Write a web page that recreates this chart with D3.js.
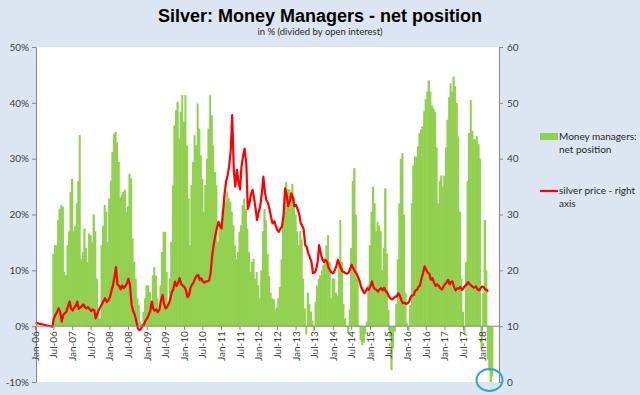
<html>
<head>
    <meta charset="utf-8">
    <title>Silver: Money Managers - net position</title>
    <style>
        body { margin: 0; background: #dce6f2; }
        text { font-family: Lato, "Open Sans", sans-serif; fill: #404040; }
        .axis path, .axis line { stroke: #868686; }
        .axis text { font-size: 10px; }
        .xlab { font-size: 9.5px; }
        .legend text { font-size: 10px; fill: #262626; }
    </style>
</head>
<body>
<svg width="640" height="395"></svg>
<script src="https://d3js.org/d3.v7.min.js"></script>
<script>
    // half-monthly readings, first one 15 Jun 2006, then 1st / 15th of each month
    var netPosition = [
        13, 14.5, 14.5, 19, 21, 21.7, 21.4, 9.7, 9.1, 14.5,
        17, 24, 26.4, 17, 18, 22, 26, 34.2, 12, 13.3,
        17.5, 14, 11.5, 16.6, 16.3, 15, 20, 17, 8.5, 2.6,
        1.4, 14.5, 18, 21.7, 20.5, 15.1, 22.9, 26, 31.2, 34.5,
        34.8, 33, 29.4, 23, 23.5, 24.1, 24.4, 20.5, 21.5, 27.3,
        26.5, 15.7, 11.5, 8.5, 5, 3.8, 0.8, 0.4, 2.6, 5,
        7.3, 7.3, 6.1, 3.8, 9.1, 10.6, 9.1, 5, 2.6, 7.3,
        13.3, 16.9, 16.9, 9.7, 4.4, 8.5, 15.1, 25.3, 36, 38.7,
        40.2, 33.6, 38.4, 41.4, 36.6, 41.4, 32.4, 22.9, 14.5, 25.3,
        29.4, 34.2, 32.4, 39.9, 35.4, 30.6, 26.4, 20.5, 25.3, 30,
        35.4, 41.4, 37.8, 32.4, 27.6, 25.3, 15.1, 18.7, 18.1, 20.5,
        23.5, 22.3, 24.1, 22.9, 22.3, 20.5, 18.1, 14.5, 12.1, 13.3,
        16.9, 18.1, 21.7, 22.9, 21, 17.5, 13.3, 9.7, 11.5, 12.1,
        8.5, 9.7, 7.3, 5, 10, 17, 21, 19, 13, 9,
        6, 5, 4.8, 3, 3.4, 5, 7, 12, 19, 23,
        25.8, 24.5, 24.5, 23.5, 25.5, 23, 20, 17, 14.5, 17,
        15.5, 8.5, 3.2, -1.5, 6, 4, 2.6, 1, -0.8, 4.4,
        7.3, 8.5, 9.1, 10, 11, 12, 14.5, 16.3, 11.5, 5,
        8.5, 8.5, 6, 5.5, 11, 19, 11.5, 4, 1.4, 0.2,
        -1.2, 3, 14, 26, 28.3, 20, 8.5, 0.2, -2.5, -3.4,
        -3, -1.5, 0.8, 7.3, 14.5, 20.5, 25, 22, 17, 18.7,
        18, 17, 10, 14, 24.7, 13, 3, -2, -7.9, -4,
        -1, 4, 12, 22, 30, 31, 20, 6, 0.5, -0.8,
        3.8, 22, 28.8, 30.4, 30.4, 32.2, 34.6, 35.2, 35.8, 38.5,
        40.7, 42, 44, 42, 39.5, 39, 38.4, 32, 22, 26,
        27, 25, 27, 32, 37, 41, 43.5, 42, 44.7, 43,
        40, 34, 20.5, 8.5, 2.6, -1.5, 11.5, 26, 34.6, 40.5,
        35, 33.6, 33.4, 34, 32.6, 30, -4, 6, 19, 10,
        -6, -8, -10, -9
    ];

    // silver price (USD/oz, right axis), same half-monthly dates
    var silverPrice = [
        9.9, 11.4, 12.0, 12.6, 13.2, 12.5, 10.8, 12.0, 12.3, 12.6, 13.5, 14.4, 13.2,
        12.8, 13.3, 13.7, 14.4, 13.1, 13.3, 13.6, 13.9, 13.4, 13.2, 13.4, 13.1,
        12.7, 13.0, 12.8, 11.4, 12.3, 12.9, 13.5, 13.9, 14.6, 15.0, 14.3, 14.6,
        15.2, 16.2, 17.4, 18.8, 20.6, 17.5, 17.2, 16.6, 17.3, 16.8, 17.2, 17.6,
        18.5, 17.5, 13.8, 12.8, 12.0, 11.0, 9.6, 9.3, 9.5, 10.0, 10.3, 11.0,
        11.4, 12.0, 12.8, 14.4, 13.2, 12.8, 13.0, 12.5, 13.0, 14.5, 15.6, 14.0,
        13.2, 13.4, 14.0, 14.8, 16.2, 16.6, 18.0, 17.2, 17.8, 18.6, 17.5, 17.3,
        17.0, 16.5, 15.2, 15.5, 16.8, 17.4, 17.8, 18.5, 19.0, 19.2, 18.3, 18.6,
        18.0, 17.8, 18.0, 18.0, 18.2, 19.5, 22.7, 24.5, 26.3, 27.5, 28.7, 28.0,
        27.5, 30.5, 34.0, 36.0, 37.0, 38.5, 41.5, 47.8, 38.0, 35.0, 38.0, 36.0,
        34.5, 38.5, 40.6, 41.8, 39.0, 31.0, 32.0, 33.5, 34.4, 33.0, 31.0, 29.0,
        30.5, 31.5, 34.0, 36.8, 34.0, 32.6, 32.0, 31.0, 29.5, 28.4, 28.8, 28.0,
        27.2, 26.9, 27.5, 27.8, 30.0, 34.7, 33.5, 31.5, 32.5, 33.8, 33.0, 31.5,
        31.7, 31.0, 30.0, 28.5, 28.0, 27.5, 24.5, 24.2, 23.0, 22.4, 21.5, 19.5,
        19.6, 20.0, 21.5, 24.5, 23.0, 22.0, 21.5, 21.9, 21.5, 20.5, 20.0, 19.6,
        19.5, 20.0, 20.8, 21.9, 21.2, 20.5, 19.8, 19.7, 19.5, 19.4, 19.6, 20.3,
        21.0, 20.4, 19.8, 19.5, 18.8, 18.2, 17.0, 16.5, 15.9, 16.2, 16.8, 16.5,
        17.2, 18.0, 17.0, 16.6, 16.5, 16.2, 16.6, 16.8, 16.4, 16.9, 16.2, 16.0,
        15.3, 15.0, 14.8, 15.0, 15.3, 15.3, 15.9, 15.5, 14.6, 14.1, 14.2, 14.0,
        14.1, 14.4, 15.3, 15.5, 15.6, 16.4, 16.5, 17.0, 17.3, 18.5, 19.6, 20.7,
        20.1, 19.6, 19.4, 18.3, 18.6, 17.8, 17.2, 17.5, 17.2, 16.8, 16.6,
        17.0, 17.5, 17.8, 18.3, 17.5, 17.9, 18.0, 17.0, 16.4, 16.8, 16.7, 17.0,
        16.5, 16.8, 17.2, 17.4, 17.9, 17.5, 17.3, 17.0, 16.9, 17.1, 16.6, 16.4,
        16.8, 17.1, 17.0, 16.6, 16.5, 16.2
    ];
    // price point before the positions data starts
    var firstPrice = { date: new Date(2006, 0, 2), value: 10.6 };

    var leftTicks = [-10, 0, 10, 20, 30, 40, 50];
    var rightTicks = [0, 10, 20, 30, 40, 50, 60];

    function periodDate(i) {
        return new Date(2006, 5 + Math.ceil(i / 2), i % 2 === 0 ? 15 : 1);
    }

    var svg = d3.select("svg");
    var plotL = 36, plotR = 499, plotT = 47, plotB = 382;

    var x = d3.scaleTime()
        .domain([new Date(2006, 0, 1), new Date(2018, 5, 15)])
        .range([35.5, plotR]);
    var yL = d3.scaleLinear().domain([-10, 50]).range([plotB, plotT]);
    var yR = d3.scaleLinear().domain([0, 60]).range([plotB, plotT]);

    // titles
    svg.append("text")
        .attr("x", 320).attr("y", 22)
        .attr("text-anchor", "middle")
        .style("font-family", "'Liberation Sans', Arial, sans-serif")
        .style("font-weight", "bold")
        .style("font-size", "18px")
        .style("fill", "#000")
        .text("Silver: Money Managers - net position");

    svg.append("text")
        .attr("x", 320).attr("y", 35)
        .attr("text-anchor", "middle")
        .style("font-size", "9.5px")
        .style("fill", "#262626")
        .text("in % (divided by open interest)");

    // plot area
    svg.append("rect")
        .attr("x", plotL).attr("y", plotT)
        .attr("width", plotR - plotL).attr("height", plotB - plotT)
        .attr("fill", "#fff");

    // money managers columns
    svg.append("g")
        .selectAll("rect")
        .data(netPosition)
        .enter().append("rect")
        .attr("x", function (d, i) { return x(periodDate(i)); })
        .attr("width", function (d, i) { return x(periodDate(i + 1)) - x(periodDate(i)) + 0.6; })
        .attr("y", function (d) { return yL(Math.max(d, 0)); })
        .attr("height", function (d) { return Math.abs(yL(d) - yL(0)); })
        .attr("fill", "#92d050");

    // silver price line
    var pricePts = [firstPrice].concat(silverPrice.map(function (v, i) {
        return { date: periodDate(i), value: v };
    }));
    svg.append("path")
        .datum(pricePts)
        .attr("fill", "none")
        .attr("stroke", "#ff0000")
        .attr("stroke-width", 2.2)
        .attr("stroke-linejoin", "round")
        .attr("d", d3.line()
            .x(function (d) { return x(d.date); })
            .y(function (d) { return yR(d.value); }));

    // left axis
    svg.append("g")
        .attr("class", "axis")
        .attr("transform", "translate(" + plotL + ",0)")
        .call(d3.axisLeft(yL).tickValues(leftTicks).tickSize(4).tickSizeOuter(0).tickPadding(3)
            .tickFormat(function (d) { return d + "%"; }));

    // right axis
    svg.append("g")
        .attr("class", "axis")
        .attr("transform", "translate(" + plotR + ",0)")
        .call(d3.axisRight(yR).tickValues(rightTicks).tickSize(4).tickSizeOuter(0).tickPadding(4));

    // category axis on the 0% line
    var xTicks = d3.timeMonth.every(6).range(new Date(2006, 0, 1), new Date(2018, 1, 1));
    var xa = svg.append("g").attr("class", "axis");
    xa.append("line")
        .attr("x1", plotL).attr("x2", plotR)
        .attr("y1", yL(0)).attr("y2", yL(0));
    xa.selectAll(".tk")
        .data(xTicks)
        .enter().append("line")
        .attr("x1", function (d) { return x(d); })
        .attr("x2", function (d) { return x(d); })
        .attr("y1", yL(0)).attr("y2", yL(0) + 4);
    xa.selectAll(".xlab")
        .data(xTicks)
        .enter().append("text")
        .attr("class", "xlab")
        .attr("text-anchor", "end")
        .attr("dy", "0.35em")
        .attr("transform", function (d) { return "translate(" + x(d) + "," + (yL(0) + 5) + ") rotate(-90)"; })
        .text(d3.timeFormat("%b-%y"));

    // legend
    var lg = svg.append("g").attr("class", "legend");
    lg.append("rect")
        .attr("x", 540).attr("y", 133).attr("width", 18).attr("height", 7)
        .attr("fill", "#92d050");
    lg.append("text").attr("x", 559).attr("y", 140).text("Money managers:");
    lg.append("text").attr("x", 559).attr("y", 153).text("net position");
    lg.append("line")
        .attr("x1", 540).attr("x2", 558).attr("y1", 191).attr("y2", 191)
        .attr("stroke", "#ff0000").attr("stroke-width", 2.2);
    lg.append("text").attr("x", 559).attr("y", 194).text("silver price - right");
    lg.append("text").attr("x", 559).attr("y", 207).text("axis");

    // highlight circle at the last readings
    svg.append("ellipse")
        .attr("cx", 489.5).attr("cy", 380).attr("rx", 13).attr("ry", 11)
        .attr("fill", "none")
        .attr("stroke", "#2aa6d6")
        .attr("stroke-width", 2);
</script>
</body>
</html>
